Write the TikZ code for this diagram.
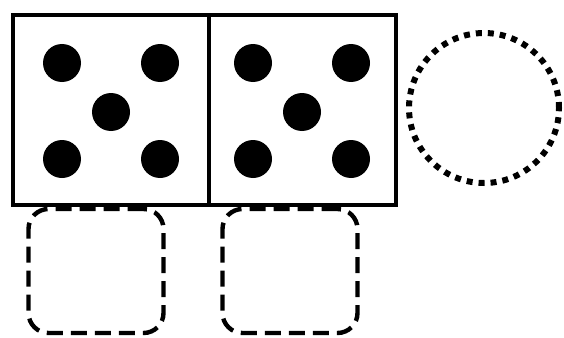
\documentclass[tikz,border=0pt]{standalone}
\usepackage{tikz}
\usetikzlibrary{positioning}

\begin{document}
\begin{tikzpicture}[
  x=1pt, y=-1pt,
  die/.style={draw, line width=3.2pt, inner sep=0pt, minimum height=190pt},
  pip/.style={circle, fill=black, inner sep=0pt, minimum size=38pt},
  slot/.style={draw, line width=4.4pt, dash pattern=on 16pt off 8pt,
               rounded corners=20pt, inner sep=0pt,
               minimum width=135pt, minimum height=124pt},
  ring/.style={draw, circle, line width=6pt, dash pattern=on 6pt off 6pt,
               inner sep=0pt, minimum size=150pt}
]
\useasboundingbox (0,0) rectangle (564,337);
% two dice with five pips each
\node[die, minimum width=196pt] (dieL) at (111,110) {};
\node[die, minimum width=187pt] (dieR) at (302.5,110) {};
\foreach \d/\cx in {L/111, R/302} {
  \node[pip] (\d tl) at (\cx-49,63)  {};
  \node[pip] (\d tr) at (\cx+49,63)  {};
  \node[pip] (\d c)  at (\cx,112)    {};
  \node[pip] (\d bl) at (\cx-49,159) {};
  \node[pip] (\d br) at (\cx+49,159) {};
}
% empty answer slots
\node[slot] (slotL) at (96,271)  {};
\node[slot] (slotR) at (290,271) {};
\node[ring] (sum)   at (484,108) {};
\end{tikzpicture}
\end{document}
